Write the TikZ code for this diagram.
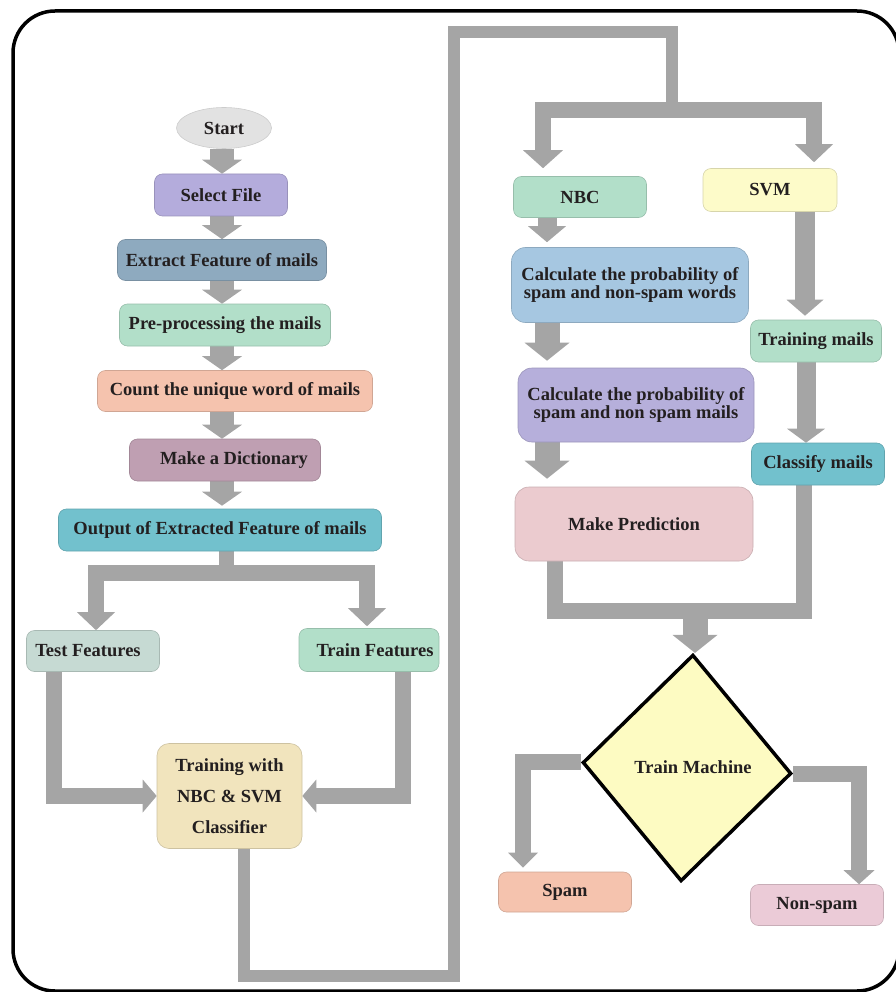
\documentclass[tikz,border=0pt]{standalone}
\usepackage{fontspec}
\setmainfont{Liberation Serif}
\usetikzlibrary{arrows.meta,shapes.geometric,backgrounds}
\definecolor{agray}{HTML}{A5A5A5}
\definecolor{txt}{HTML}{231F20}
\definecolor{cStart}{HTML}{E2E2E2}
\definecolor{cSel}{HTML}{B4ACDC}
\definecolor{cExt}{HTML}{8EAABF}
\definecolor{cMint}{HTML}{B2DFC9}
\definecolor{cPeach}{HTML}{F5C3AE}
\definecolor{cDic}{HTML}{BF9FB2}
\definecolor{cTeal}{HTML}{72C1CD}
\definecolor{cTest}{HTML}{C6DAD3}
\definecolor{cTrn}{HTML}{F1E4BD}
\definecolor{cSvm}{HTML}{FDFBC9}
\definecolor{cCp1}{HTML}{A6C7E1}
\definecolor{cCp2}{HTML}{B6AFDB}
\definecolor{cMp}{HTML}{EBCBCF}
\definecolor{cDia}{HTML}{FDFBC2}
\definecolor{cNon}{HTML}{EBCBD7}
\begin{document}
\begin{tikzpicture}[x=1pt,y=-1pt,line join=miter,
  lbl/.style={font=\fontsize{18.5}{22}\selectfont\bfseries,text=txt},
  box/.style={lbl,draw=#1!85!black,line width=0.6pt,fill=#1,rounded corners=8pt,inner sep=0pt,align=center},
  bigbox/.style={box=#1,rounded corners=14pt,font=\fontsize{18.5}{14.5}\selectfont\bfseries},
  conn/.style={draw=agray,line width=#1},
  arr/.style n args={3}{draw=agray,line width=#1,-{Triangle[length=#3,width=#2,line width=0pt]}}
]
\useasboundingbox (0,0) rectangle (895,992);
\clip (0,0) rectangle (895,992);

% ---------- nodes ----------
\node[lbl,ellipse,draw=black!20,line width=0.6pt,fill=cStart,minimum width=95pt,minimum height=41pt,inner sep=0pt] (start) at (224,128) {Start};
\node[box=cSel,minimum width=133pt,minimum height=42pt] (sel) at (221,195) {Select File};
\node[box=cExt,minimum width=209pt,minimum height=41pt] (ext) at (222,260) {Extract Feature of mails};
\node[box=cMint,minimum width=211pt,minimum height=42pt] (pre) at (225,325) {Pre-processing the mails};
\node[box=cPeach,minimum width=275pt,minimum height=41pt] (cnt) at (235,391) {Count the unique word of mails};
\node[box=cDic,minimum width=191pt,minimum height=42pt] (dic) at (225,460) {\hspace*{18pt}Make a Dictionary};
\node[box=cTeal,minimum width=323pt,minimum height=42pt] (out) at (220,530) {Output of Extracted Feature of mails};
\node[box=cTest,minimum width=133pt,minimum height=41pt] (tf) at (93,651) {Test Features\hspace*{10pt}};
\node[box=cMint,minimum width=140pt,minimum height=43pt] (trf) at (369,650) {\hspace*{12pt}Train Features};
\node[box=cTrn,minimum width=145pt,minimum height=105pt,rounded corners=12pt] (trn) at (229.5,796) {Training with\\[9pt]NBC \& SVM\\[9pt]Classifier};

\node[box=cMint,minimum width=133pt,minimum height=41pt] (nbc) at (580,197) {NBC};
\node[box=cSvm,minimum width=134pt,minimum height=43pt] (svm) at (770,190) {SVM};
\node[bigbox=cCp1,minimum width=237pt,minimum height=75pt] (cp1) at (630,285) {Calculate the probability of\\spam and non-spam words};
\node[bigbox=cCp2,minimum width=236pt,minimum height=74pt] (cp2) at (636,405) {Calculate the probability of\\spam and non spam mails};
\node[bigbox=cMp,minimum width=238pt,minimum height=74pt] (mp) at (634,524) {Make Prediction};
\node[box=cMint,minimum width=131pt,minimum height=42pt] (trm) at (816,341) {Training mails};
\node[box=cTeal,minimum width=133pt,minimum height=42pt] (cls) at (818,464) {Classify mails};
\node[diamond,draw=black,line width=3.5pt,fill=cDia,minimum width=209pt,minimum height=227pt,inner sep=0pt,rotate=-3] (tm) at (687,768) {};
\node[lbl] (tmt) at (693,767) {Train Machine};
\node[box=cPeach,minimum width=133pt,minimum height=40pt] (spam) at (565,892) {Spam};
\node[box=cNon,minimum width=133pt,minimum height=41pt] (non) at (817,905) {Non-spam};

% ---------- helper coordinates ----------
\coordinate (ax) at (222,0);
\coordinate (ob) at (226,573);
\coordinate (tfx) at (96,0);
\coordinate (trx) at (367,0);
\coordinate (tx) at (54,0);
\coordinate (rx) at (403,0);
\coordinate (k1) at (244,976);
\coordinate (k2) at (454,976);
\coordinate (k3) at (454,32);
\coordinate (k4) at (672,32);
\coordinate (k5) at (672,110);
\coordinate (nx) at (543,0);
\coordinate (sx) at (814,0);
\coordinate (px) at (547,0);
\coordinate (vx) at (805,0);
\coordinate (cx) at (806,0);
\coordinate (m1) at (555,611);
\coordinate (m2) at (804,611);
\coordinate (m3) at (695,611);
\coordinate (spx) at (523,0);
\coordinate (nsx) at (859,0);

\begin{scope}[on background layer]
% frame
\draw[line width=3.5pt,rounded corners=42pt] (13,11) rectangle (899,991);
% left column
\draw[arr={24pt}{40pt}{14pt}] (start.south -| ax) -- (sel.north -| ax);
\draw[arr={24pt}{40pt}{14pt}] (sel.south -| ax) -- (ext.north -| ax);
\draw[arr={24pt}{40pt}{14pt}] (ext.south -| ax) -- (pre.north -| ax);
\draw[arr={24pt}{40pt}{14pt}] (pre.south -| ax) -- (cnt.north -| ax);
\draw[arr={24pt}{40pt}{14pt}] (cnt.south -| ax) -- (dic.north -| ax);
\draw[arr={24pt}{40pt}{14pt},shorten >=3pt] (dic.south -| ax) -- (out.north -| ax);
% fork to test / train features
\draw[conn=15pt] (out.south -| ob) -- (ob);
\draw[arr={16pt}{38pt}{18pt}] (ob) -| (tf.north -| tfx);
\draw[arr={16pt}{38pt}{18pt},shorten >=2pt] (ob) -| (trf.north -| trx);
% to training
\draw[arr={16pt}{33pt}{14pt}] (tf.south -| tx) |- (trn.west);
\draw[arr={16pt}{33pt}{14pt}] (trf.south -| rx) |- (trn.east);
% long connector
\draw[conn=12pt] (trn.south -| k1) -- (k1) -- (k2) -- (k3) -- (k4) -- (k5);
\draw[arr={16pt}{40pt}{18pt},shorten >=8pt] (k5) -| (nbc.north -| nx);
\draw[arr={16pt}{38pt}{18pt},shorten >=6pt] (k5) -| (svm.north -| sx);
% NBC column
\draw[arr={19pt}{38pt}{16pt},shorten >=5pt] (nbc.south -| px) -- (cp1.north -| px);
\draw[arr={25pt}{45pt}{18pt},shorten >=7pt] (cp1.south -| px) -- (cp2.north -| px);
\draw[arr={25pt}{45pt}{18pt},shorten >=8pt] (cp2.south -| px) -- (mp.north -| px);
% SVM column
\draw[arr={20pt}{37pt}{16pt},shorten >=4pt] (svm.south -| vx) -- (trm.north -| vx);
\draw[arr={19pt}{38pt}{14pt}] (trm.south -| cx) -- (cls.north -| cx);
% merge
\draw[conn=16pt] (mp.south -| m1) -- (m1) -- (m2) -- (cls.south -| m2);
\draw[arr={25pt}{45pt}{18pt}] (m3) -- (m3 |- tm.north);
% decisions
\draw[arr={16pt}{30pt}{15pt},shorten >=4pt] (tm.west) -| (spam.north -| spx);
\draw[arr={16pt}{31pt}{14pt}] (tm.east) -| (non.north -| nsx);
\end{scope}
\end{tikzpicture}
\end{document}
